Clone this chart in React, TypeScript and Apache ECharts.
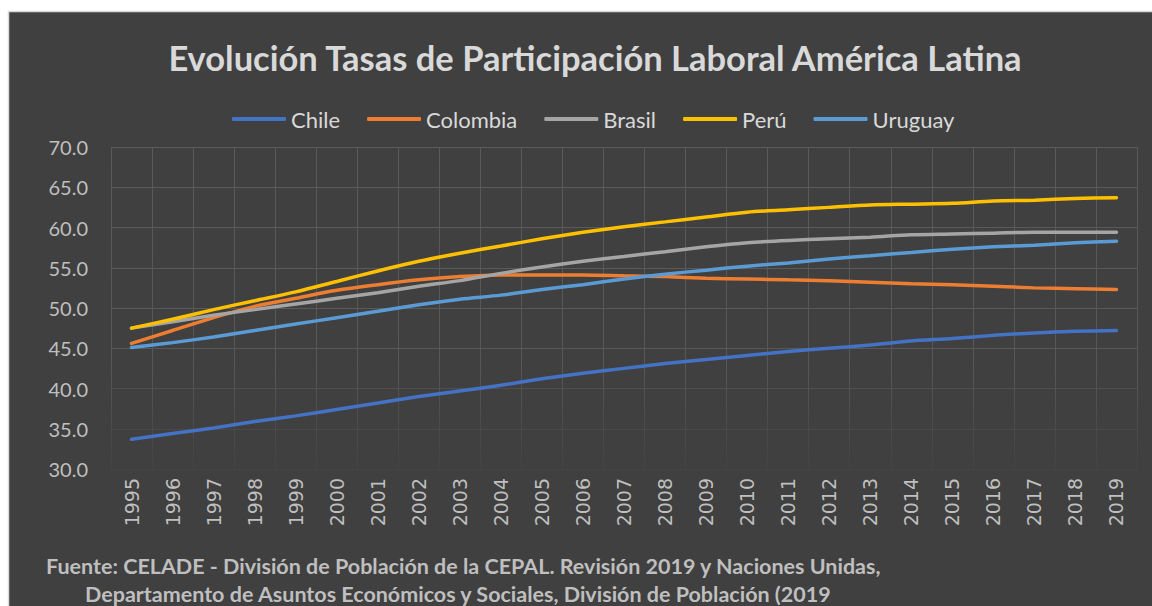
import React, { useEffect, useRef } from "react";
import * as echarts from "echarts";

const years = ["1995","1996","1997","1998","1999","2000","2001","2002","2003","2004","2005","2006","2007","2008","2009","2010","2011","2012","2013","2014","2015","2016","2017","2018","2019"];
const chile = [33.7, 34.4, 35.1, 35.9, 36.6, 37.4, 38.2, 39.0, 39.7, 40.4, 41.2, 41.9, 42.5, 43.1, 43.6, 44.1, 44.6, 45.0, 45.4, 45.9, 46.2, 46.6, 46.9, 47.1, 47.2];
const colombia = [45.6, 47.2, 48.8, 50.2, 51.2, 52.2, 52.9, 53.5, 53.9, 54.1, 54.1, 54.1, 54.0, 53.9, 53.7, 53.6, 53.5, 53.4, 53.2, 53.0, 52.9, 52.7, 52.5, 52.4, 52.3];
const brasil = [47.5, 48.3, 49.1, 49.8, 50.5, 51.2, 51.9, 52.7, 53.4, 54.3, 55.1, 55.8, 56.4, 57.0, 57.6, 58.1, 58.4, 58.6, 58.8, 59.1, 59.2, 59.3, 59.4, 59.4, 59.4];
const peru = [47.5, 48.6, 49.8, 50.9, 52.0, 53.3, 54.6, 55.8, 56.8, 57.7, 58.6, 59.4, 60.1, 60.7, 61.3, 61.9, 62.2, 62.5, 62.8, 62.9, 63.0, 63.3, 63.4, 63.6, 63.7];
const uruguay = [45.1, 45.7, 46.4, 47.2, 48.0, 48.8, 49.6, 50.4, 51.1, 51.6, 52.3, 52.9, 53.6, 54.2, 54.7, 55.2, 55.6, 56.1, 56.5, 56.9, 57.3, 57.6, 57.8, 58.1, 58.3];

const seriesNames = ["Chile", "Colombia", "Brasil", "Perú", "Uruguay"];
const seriesData = [chile, colombia, brasil, peru, uruguay];
const seriesColors = ["#4472C4", "#ED7D31", "#A5A5A5", "#FFC000", "#5B9BD5"];

const titleText = "Evolución Tasas de Participación Laboral América Latina";
const sourceLine1 = "Fuente: CELADE - División de Población de la CEPAL. Revisión 2019 y Naciones Unidas,";
const sourceLine2 = "Departamento de Asuntos Económicos y Sociales, División de Población (2019";

const FONT = "Lato, 'Open Sans', sans-serif";

export default function App() {
  const ref = useRef<HTMLDivElement>(null);
  useEffect(() => {
    if (!ref.current) return;
    const chart = echarts.init(ref.current, undefined, { renderer: "svg" });
    const gridTop = 147;
    const gridBottomY = 469;
    chart.setOption({
      animation: false,
      backgroundColor: "#ffffff",
      graphic: {
        elements: [
          {
            type: "rect",
            z: -100,
            silent: true,
            shape: { x: 8.5, y: 11.5, width: 1160, height: 610 },
            style: { fill: "#404040", stroke: "#D9D9D9", lineWidth: 1.5 },
          },
        ],
      },
      title: [
        {
          text: titleText,
          left: 590,
          top: 32,
          textAlign: "center",
          textStyle: { color: "#D9D9D9", fontSize: 34.5, lineHeight: 40, fontWeight: "bold", fontFamily: FONT },
        },
        {
          text: sourceLine1,
          left: 41,
          top: 550,
          textStyle: { color: "#BFBFBF", fontSize: 21.5, lineHeight: 22, fontWeight: "bold", fontFamily: FONT },
        },
        {
          text: sourceLine2,
          left: 80,
          top: 578,
          textStyle: { color: "#BFBFBF", fontSize: 21.5, lineHeight: 22, fontWeight: "bold", fontFamily: FONT },
        },
      ],
      legend: {
        left: 227,
        top: 103,
        icon: "roundRect",
        itemWidth: 54,
        itemHeight: 4,
        itemGap: 27,
        textStyle: { color: "#D9D9D9", fontSize: 22, fontFamily: FONT },
        data: seriesNames,
      },
      grid: { left: 111, right: 15, top: gridTop, bottom: 606 - gridBottomY, containLabel: false },
      xAxis: {
        type: "category",
        data: years,
        boundaryGap: true,
        axisLine: { show: false },
        axisTick: { show: false },
        axisLabel: {
          rotate: 90,
          margin: 9,
          color: "#BFBFBF",
          fontSize: 19,
          fontFamily: "'DejaVu Sans', sans-serif",
          interval: 0,
        },
        splitLine: {
          show: true,
          interval: 0,
          lineStyle: {
            width: 1,
            color: new echarts.graphic.LinearGradient(0, gridTop, 0, gridBottomY, [
              { offset: 0, color: "#5A5A5A" },
              { offset: 0.68, color: "#575757" },
              { offset: 1, color: "#434343" },
            ], true),
          },
        },
      },
      yAxis: {
        type: "value",
        min: 30,
        max: 70,
        interval: 5,
        axisLine: { show: false },
        axisTick: { show: false },
        axisLabel: {
          margin: 23,
          color: "#BFBFBF",
          fontSize: 20,
          fontFamily: FONT,
          formatter: (v: number) => v.toFixed(1),
        },
        splitLine: {
          lineStyle: {
            width: 1,
            color: ["#444444", "#494949", "#4F4F4F", "#585858", "#5A5A5A", "#5A5A5A", "#5A5A5A", "#5A5A5A", "#5A5A5A"],
          },
        },
      },
      series: seriesNames.map((name, i) => ({
        name,
        type: "line",
        data: seriesData[i],
        smooth: 0.3,
        showSymbol: false,
        symbol: "none",
        lineStyle: { color: seriesColors[i], width: 3.5, cap: "round" },
        itemStyle: { color: seriesColors[i] },
      })),
    });
    return () => chart.dispose();
  }, []);
  return (
    <div
      ref={ref}
      style={{ position: "fixed", left: 0, top: 0, width: 1152, height: 606 }}
    />
  );
}
